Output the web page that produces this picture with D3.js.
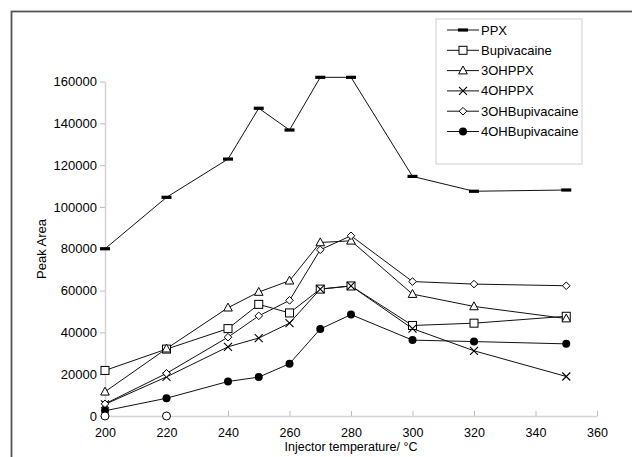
<!DOCTYPE html>
<html>
<head>
<meta charset="utf-8">
<script src="https://cdn.jsdelivr.net/npm/d3@7"></script>
<style>
  html, body { margin: 0; padding: 0; background: #fff; }
  svg { display: block; font-family: Arial, "Liberation Sans", sans-serif; }
</style>
</head>
<body>
<svg id="chart" width="632" height="457"></svg>
<script>
// ---- data ----
const temperatures = [200, 220, 240, 250, 260, 270, 280, 300, 320, 350];
const seriesNames = ["PPX", "Bupivacaine", "3OHPPX", "4OHPPX", "3OHBupivacaine", "4OHBupivacaine"];
const ppx            = [80000, 104600, 122900, 147200, 136800, 162000, 162000, 114600, 107500, 108100];
const bupivacaine    = [21800, 32000, 41800, 53400, 49300, 60700, 62200, 43300, 44400, 47700];
const oh3ppx         = [11600, 32200, 51800, 59300, 64700, 83000, 83800, 58300, 52400, 46600];
const oh4ppx         = [5600, 18700, 33100, 37300, 44400, 60700, 62200, 41800, 31200, 18900];
const oh3bupivacaine = [5800, 20400, 37700, 47900, 55300, 79500, 86200, 64300, 63100, 62300];
const oh4bupivacaine = [2500, 8500, 16500, 18600, 25000, 41600, 48500, 36300, 35600, 34500];
const extraTemps  = [200, 220];   // unlabelled open-circle points on the baseline
const extraValues = [0, 0];
const yTicks = [0, 20000, 40000, 60000, 80000, 100000, 120000, 140000, 160000];
const xTicks = [200, 220, 240, 260, 280, 300, 320, 340, 360];
const xTitle = "Injector temperature/ °C";
const yTitle = "Peak Area";

// ---- setup ----
const svg = d3.select("#chart");
const x = d3.scaleLinear().domain([200, 360]).range([105, 597]);
const y = d3.scaleLinear().domain([0, 160000]).range([416, 81.5]);

// outer frame
svg.append("rect").attr("x", 11.5).attr("y", 11.5).attr("width", 700).attr("height", 600)
  .attr("fill", "none").attr("stroke", "#555").attr("stroke-width", 1.8);

// axes
const gy = svg.append("g").attr("transform", `translate(${x(200)},0)`)
  .call(d3.axisLeft(y).tickValues(yTicks).tickFormat(d3.format("d")).tickSize(5).tickSizeOuter(0).tickPadding(3));
const gx = svg.append("g").attr("transform", `translate(0,${y(0)})`)
  .call(d3.axisBottom(x).tickValues(xTicks).tickFormat(d3.format("d")).tickSize(-5).tickSizeOuter(0).tickPadding(13));
[gx, gy].forEach(g => {
  g.select(".domain").attr("stroke", "#d4d4d4").attr("stroke-width", 1.5);
  g.selectAll(".tick line").attr("stroke", "#bdbdbd");
  g.selectAll(".tick text").attr("fill", "#000").attr("font-size", 13)
    .attr("font-family", "Arial, 'Liberation Sans', sans-serif");
});
gx.selectAll(".tick text").attr("font-size", 12.5).attr("dy", "0.66em");

svg.append("text").attr("x", x(280)).attr("y", 451).attr("text-anchor", "middle")
  .attr("font-size", 12.5).text(xTitle);
svg.append("text").attr("transform", "translate(46,249) rotate(-90)").attr("text-anchor", "middle")
  .attr("font-size", 13).text(yTitle);

// marker drawers
function drawMarker(g, type) {
  if (type === "dash") {
    g.append("rect").attr("x", -5).attr("y", -1.6).attr("width", 10).attr("height", 3.2).attr("fill", "#000");
  } else if (type === "square") {
    g.append("rect").attr("x", -4).attr("y", -4).attr("width", 8).attr("height", 8)
      .attr("fill", "#fff").attr("stroke", "#000").attr("stroke-width", 1);
  } else if (type === "triangle") {
    g.append("path").attr("d", "M0,-4.6L4.3,3.3L-4.3,3.3Z")
      .attr("fill", "#fff").attr("stroke", "#000").attr("stroke-width", 1);
  } else if (type === "x") {
    g.append("path").attr("d", "M-4,-4L4,4M-4,4L4,-4")
      .attr("fill", "none").attr("stroke", "#000").attr("stroke-width", 1.1);
  } else if (type === "diamond") {
    g.append("path").attr("d", "M0,-3.8L3.8,0L0,3.8L-3.8,0Z")
      .attr("fill", "#fff").attr("stroke", "#000").attr("stroke-width", 1);
  } else if (type === "dot") {
    g.append("circle").attr("r", 4).attr("fill", "#000");
  } else if (type === "ring") {
    g.append("circle").attr("r", 4).attr("fill", "#fff").attr("stroke", "#000").attr("stroke-width", 1);
  }
}

const seriesValues = [ppx, bupivacaine, oh3ppx, oh4ppx, oh3bupivacaine, oh4bupivacaine];
const markerTypes = ["dash", "square", "triangle", "x", "diamond", "dot"];
const line = d3.line().x(d => x(d[0])).y(d => y(d[1]));

const series = seriesValues.map((vals, i) => ({
  name: seriesNames[i], marker: markerTypes[i],
  points: temperatures.map((t, j) => [t, vals[j]])
}));

// lines
series.forEach(s => {
  svg.append("path").attr("d", line(s.points)).attr("fill", "none")
    .attr("stroke", "#111").attr("stroke-width", 1);
});
// markers
series.forEach(s => {
  s.points.forEach(p => {
    const g = svg.append("g").attr("transform", `translate(${x(p[0])},${y(p[1])})`);
    drawMarker(g, s.marker);
  });
});
// extra open circles
extraTemps.forEach((t, j) => {
  const g = svg.append("g").attr("transform", `translate(${x(t)},${y(extraValues[j])})`);
  drawMarker(g, "ring");
});

// legend
const lg = svg.append("g");
lg.append("rect").attr("x", 436).attr("y", 19).attr("width", 146).attr("height", 145)
  .attr("fill", "#fff").attr("stroke", "#cfcfcf").attr("stroke-width", 1);
seriesNames.forEach((name, i) => {
  const yy = 30 + i * 20.3;
  lg.append("line").attr("x1", 447).attr("x2", 479).attr("y1", yy).attr("y2", yy)
    .attr("stroke", "#111").attr("stroke-width", 1);
  const g = lg.append("g").attr("transform", `translate(463,${yy})`);
  drawMarker(g, markerTypes[i]);
  lg.append("text").attr("x", 481).attr("y", yy).attr("dy", "0.35em").attr("font-size", 13)
    .attr("fill", "#000").text(name);
});
</script>
</body>
</html>
